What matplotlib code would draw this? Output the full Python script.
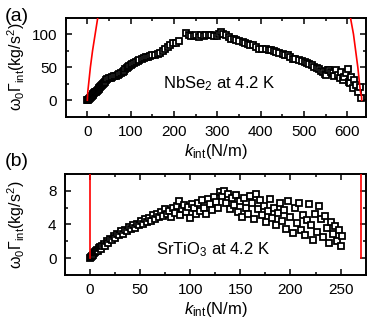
import numpy as np
import matplotlib
matplotlib.use('Agg')
import matplotlib.pyplot as plt
from matplotlib.ticker import MultipleLocator

plt.rcParams['font.family'] = ['Liberation Sans', 'DejaVu Sans']
plt.rcParams['mathtext.fontset'] = 'custom'
plt.rcParams['mathtext.rm'] = 'Liberation Sans'
plt.rcParams['mathtext.it'] = 'Liberation Sans:italic'

# panel (a): NbSe2
k_a = [0, 2, 4, 6, 8, 10, 12, 14, 16, 18, 20, 22, 24, 26, 28, 30, 32, 34, 36, 38,
       40, 43, 46, 50, 55, 58, 62, 66, 70, 74, 78, 82, 85, 88, 91, 94, 97, 100, 104, 108,
       112, 116, 120, 125, 130, 135, 140, 145, 150, 156, 162, 168, 174, 180, 185, 191, 197, 204, 212, 228,
       234, 239, 245, 251, 257, 262, 268, 274, 280, 286, 292, 298, 304, 308, 313, 320, 326, 332, 338, 343,
       350, 358, 364, 370, 376, 382, 390, 397, 404, 412, 418, 424, 430, 435, 443, 451, 457, 462, 468, 474,
       480, 489, 495, 501, 507, 512, 518, 524, 530, 535, 540, 543, 548, 551, 555, 558, 562, 566, 570, 574,
       578, 582, 585, 589, 593, 597, 601, 603, 605, 608, 612, 615, 620, 624, 628, 632]
g_a = [0, 1, 2, 3.5, 5, 6, 8, 9, 10.5, 12, 13, 14.5, 15, 17, 18.5, 20, 21, 23, 24, 26,
       28, 31, 32, 33, 34, 35, 36, 37, 38, 39.5, 41, 43, 45, 47, 49, 50, 52, 53, 55, 57,
       58, 60, 61, 63, 64, 66, 66, 67, 68, 69, 70, 72, 75, 78, 81, 83, 86, 87, 89.5, 101.5,
       98, 96.5, 97, 98, 96, 98, 97, 99.5, 98, 99, 97, 96.5, 100, 103, 101, 98, 95, 93, 92, 90.5,
       89, 88, 86, 85.5, 84, 83, 80, 78, 78, 78, 76, 75.5, 74, 73, 72, 70.5, 69, 68, 66, 63,
       62, 60.5, 59, 58, 57, 55.5, 53, 50.5, 49, 48, 45, 43, 40, 38, 46, 45.5, 42, 40.5, 36, 45.5,
       38, 33, 42, 30.5, 35, 40.5, 48, 28, 25.5, 35.5, 18, 30, 23, 13, 20, 3]
# red model curves (a)
red_a1_k = [0, 0.3, 1, 3, 7, 12, 18, 24]
red_a1_g = [0, 5, 13, 25, 50, 75, 100, 125]
red_a2_k = [633, 632.7, 630, 628, 624, 619, 614, 607]
red_a2_g = [0, 5, 13, 25, 50, 75, 100, 125]

# panel (b): SrTiO3
k_b = [0, 1, 2, 3, 4, 5, 6, 7, 8, 9, 10, 11, 12, 14, 15, 17, 18, 20, 22, 24,
       25, 27, 29, 31, 33, 35, 37, 39, 41, 43, 45, 47, 49, 51, 53, 55, 57, 59, 61, 63,
       65, 67, 69, 71, 73, 75, 77, 79, 81, 83, 85, 87, 89, 90, 92, 94, 96, 98, 100, 102,
       104, 106, 108, 110, 112, 114, 116, 118, 120, 122, 124, 126, 128, 130, 132, 134, 136, 138, 140, 142,
       144, 146, 148, 150, 152, 154, 156, 158, 160, 162, 164, 166, 168, 170, 172, 174, 176, 178, 180, 182,
       184, 186, 188, 190, 192, 194, 196, 198, 200, 202, 204, 206, 208, 210, 212, 214, 216, 218, 220, 222,
       224, 226, 228, 230, 232, 234, 236, 238, 240, 242, 244, 246, 248, 250, 251]
g_b = [0, 0.1, 0.3, 0.4, 0.6, 0.7, 0.9, 1.0, 0.8, 1.2, 1.3, 1.1, 1.5, 1.7, 1.4, 2.0, 1.8, 2.3, 2.1, 2.6,
       2.4, 2.9, 2.7, 3.2, 2.9, 3.4, 3.2, 3.7, 3.5, 3.9, 3.6, 4.1, 3.9, 4.4, 4.0, 4.6, 4.3, 4.8, 4.4, 5.1,
       4.7, 5.3, 4.9, 5.5, 5.0, 5.8, 5.2, 5.6, 4.9, 6.0, 5.4, 6.2, 6.8, 5.1, 5.8, 6.3, 5.5, 6.1, 4.8, 6.4,
       5.9, 5.2, 6.6, 5.6, 6.9, 6.0, 5.3, 7.0, 6.4, 5.7, 7.3, 6.7, 6.0, 7.8, 7.4, 8.0, 6.5, 7.6, 5.8, 7.1,
       6.3, 7.5, 5.5, 6.8, 4.9, 7.2, 6.0, 5.3, 7.4, 6.6, 4.6, 7.6, 5.8, 6.9, 5.1, 6.2, 4.3, 5.6, 7.0, 4.8,
       6.0, 3.9, 5.4, 6.5, 4.4, 5.7, 3.5, 6.8, 4.9, 3.0, 5.9, 4.2, 6.6, 3.4, 5.1, 2.8, 4.5, 6.4, 3.9, 2.2,
       5.3, 3.1, 6.2, 4.6, 2.5, 5.0, 3.6, 1.8, 4.3, 2.9, 3.8, 2.0, 3.3, 1.5, 2.6]
red_b1_k = [0, 0]
red_b1_g = [0, 10]
red_b2_k = [270, 270]
red_b2_g = [0, 10]

fig = plt.figure(figsize=(3.69, 3.27), dpi=100)
ax1 = fig.add_axes([0.178, 0.643, 0.814, 0.303])
ax2 = fig.add_axes([0.176, 0.159, 0.815, 0.309])

ylab = 'ω$_0$Γ$_{\\rm int}$(kg/s$^2$)'
xlab = '$k_{\\rm int}$(N/m)'

def style(ax):
    for s in ax.spines.values():
        s.set_linewidth(1.4)
    ax.tick_params(which='both', direction='in', top=True, right=True, width=1.1, labelsize=11, pad=6)
    ax.tick_params(which='major', length=4)
    ax.tick_params(which='minor', length=2)

ax1.plot(red_a1_k, red_a1_g, color='red', lw=1.2, zorder=3)
ax1.plot(red_a2_k, red_a2_g, color='red', lw=1.2, zorder=3)
ax1.plot(k_a, g_a, 's', mfc='white', mec='black', ms=4.8, mew=1.3, zorder=2)
ax1.set_xlim(-50, 643)
ax1.set_ylim(-25, 125)
ax1.xaxis.set_major_locator(MultipleLocator(100))
ax1.xaxis.set_minor_locator(MultipleLocator(50))
ax1.yaxis.set_major_locator(MultipleLocator(50))
ax1.yaxis.set_minor_locator(MultipleLocator(25))
style(ax1)
ax1.set_ylabel(ylab, fontsize=11.5)
ax1.yaxis.set_label_coords(-0.129, 0.5)
ax1.set_xlabel(xlab, fontsize=12, labelpad=2)
ax1.text(304, 25, 'NbSe$_2$ at 4.2 K', fontsize=12, ha='center', va='center')

ax2.plot(red_b1_k, red_b1_g, color='red', lw=1.2, zorder=3)
ax2.plot(red_b2_k, red_b2_g, color='red', lw=1.2, zorder=3)
ax2.plot(k_b, g_b, 's', mfc='white', mec='black', ms=4.8, mew=1.3, zorder=2)
ax2.set_xlim(-25, 275)
ax2.set_ylim(-2, 10)
ax2.xaxis.set_major_locator(MultipleLocator(50))
ax2.xaxis.set_minor_locator(MultipleLocator(25))
ax2.yaxis.set_major_locator(MultipleLocator(4))
ax2.yaxis.set_minor_locator(MultipleLocator(2))
style(ax2)
ax2.set_ylabel(ylab, fontsize=11.5)
ax2.yaxis.set_label_coords(-0.126, 0.5)
ax2.set_xlabel(xlab, fontsize=12, labelpad=2)
ax2.text(123, 1.0, 'SrTiO$_3$ at 4.2 K', fontsize=12, ha='center', va='center')

fig.text(0.046, 0.951, '(a)', fontsize=14, ha='center', va='center')
fig.text(0.046, 0.505, '(b)', fontsize=14, ha='center', va='center')

fig.savefig('out.png', dpi=100)
